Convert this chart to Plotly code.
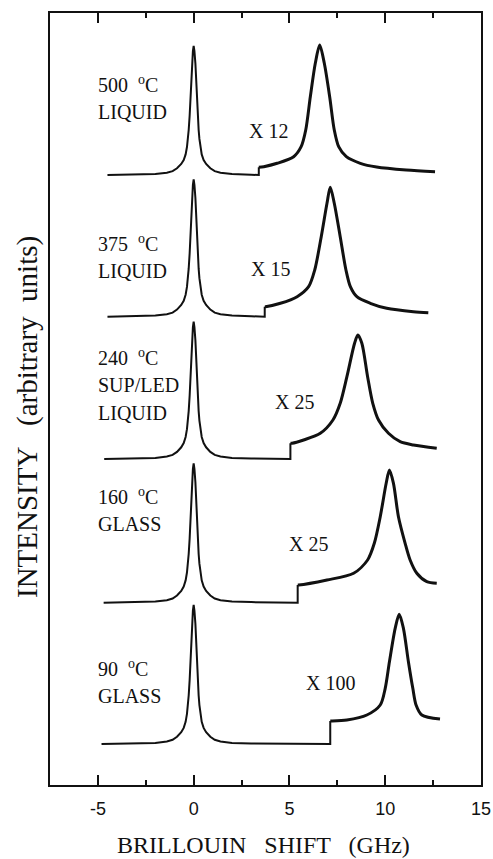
import plotly.graph_objects as go

# Brillouin spectra of the melt at five temperatures, stacked vertically.
# Each spectrum: Rayleigh line (around 0 GHz) and Brillouin peak (magnified).

# Vertical offsets (baselines) of the stacked spectra, arbitrary units
offsets = [610.0, 468.3, 326.0, 182.3, 41.0]

# Rayleigh segments: shift (GHz) and intensity above baseline.
# Each segment ends with the vertical step up to the magnified part.
ray_shift_1 = [-4.5, -3.0, -2.0, -1.4, -1.1, -0.87, -0.65, -0.52, -0.42, -0.35, -0.30,
               -0.26, -0.21, -0.17, -0.13, -0.09, -0.04, 0.0, 0.04, 0.09, 0.13, 0.17,
               0.21, 0.26, 0.30, 0.35, 0.42, 0.52, 0.65, 0.87, 1.1, 1.4, 2.0, 3.0, 3.4, 3.4]
ray_int_1 = [0, 0.4, 1.0, 2.3, 3.9, 6.7, 11.0, 15.0, 20.6, 28.0, 36.1,
             45.0, 59.3, 78.0, 92.9, 111.7, 123.8, 129.0, 123.8, 111.7, 92.9, 78.0,
             59.3, 45.0, 36.1, 28.0, 20.6, 15.0, 11.0, 6.7, 3.9, 2.3, 1.0, 0.3, 0, 7.7]

ray_shift_2 = [-4.5, -3.0, -2.0, -1.4, -1.1, -0.87, -0.65, -0.52, -0.42, -0.35, -0.30,
               -0.26, -0.21, -0.17, -0.13, -0.09, -0.04, 0.0, 0.04, 0.09, 0.13, 0.17,
               0.21, 0.26, 0.30, 0.35, 0.42, 0.52, 0.65, 0.87, 1.1, 1.4, 2.0, 3.0, 3.71, 3.71]
ray_int_2 = [0, 0.5, 1.1, 2.5, 4.1, 7.1, 11.7, 15.9, 22.0, 29.8, 38.5,
             48.0, 63.2, 83.1, 98.9, 119.0, 131.9, 137.4, 131.9, 119.0, 98.9, 83.1,
             63.2, 48.0, 38.5, 29.8, 22.0, 15.9, 11.7, 7.1, 4.1, 2.5, 1.1, 0.5, 0, 10.0]

ray_shift_3 = [-4.67, -3.0, -2.0, -1.4, -1.1, -0.87, -0.65, -0.52, -0.42, -0.35, -0.30,
               -0.26, -0.21, -0.17, -0.13, -0.09, -0.04, 0.0, 0.04, 0.09, 0.13, 0.17,
               0.21, 0.26, 0.30, 0.35, 0.42, 0.52, 0.65, 0.87, 1.1, 1.4, 2.0, 3.0, 4.0,
               5.05, 5.05]
ray_int_3 = [0, 0.5, 1.1, 2.5, 4.1, 7.1, 11.7, 15.9, 22.0, 29.8, 38.4,
             47.9, 63.2, 83.1, 98.9, 118.9, 131.8, 137.3, 131.8, 118.9, 98.9, 83.1,
             63.2, 47.9, 38.4, 29.8, 22.0, 15.9, 11.7, 7.1, 4.1, 2.5, 1.1, 0.5, 0.2,
             0, 15.7]

ray_shift_4 = [-4.7, -3.0, -2.0, -1.4, -1.1, -0.87, -0.65, -0.52, -0.42, -0.35, -0.30,
               -0.26, -0.21, -0.17, -0.13, -0.09, -0.04, 0.0, 0.04, 0.09, 0.13, 0.17,
               0.21, 0.26, 0.30, 0.35, 0.42, 0.52, 0.65, 0.87, 1.1, 1.4, 2.0, 3.0, 4.0,
               5.43, 5.43]
ray_int_4 = [0, 0.6, 1.1, 2.5, 4.2, 7.2, 11.8, 16.2, 22.3, 30.2, 39.0,
             48.7, 64.1, 84.3, 100.4, 120.7, 133.8, 139.4, 133.8, 120.7, 100.4, 84.3,
             64.1, 48.7, 39.0, 30.2, 22.3, 16.2, 11.8, 7.2, 4.2, 2.5, 1.1, 0.6, 0.2,
             0, 17.7]

ray_shift_5 = [-4.81, -3.0, -2.0, -1.4, -1.1, -0.87, -0.65, -0.52, -0.42, -0.35, -0.30,
               -0.26, -0.21, -0.17, -0.13, -0.09, -0.04, 0.0, 0.04, 0.09, 0.13, 0.17,
               0.21, 0.26, 0.30, 0.35, 0.42, 0.52, 0.65, 0.87, 1.1, 1.4, 2.0, 3.0, 5.0,
               7.13, 7.13]
ray_int_5 = [0, 0.6, 1.1, 2.5, 4.2, 7.2, 11.8, 16.1, 22.2, 30.2, 38.9,
             48.5, 63.9, 84.1, 100.1, 120.4, 133.4, 139.0, 133.4, 120.4, 100.1, 84.1,
             63.9, 48.5, 38.9, 30.2, 22.2, 16.1, 11.8, 7.2, 4.2, 2.5, 1.1, 0.6, 0.2,
             0, 23.0]

# Brillouin segments (magnified): shift (GHz) and intensity above baseline
bri_shift_1 = [3.4, 3.66, 4.36, 5.22, 5.61, 5.85, 6.09, 6.35, 6.58,
               6.82, 7.1, 7.34, 7.57, 7.97, 8.7, 9.55, 11.1, 12.6]
bri_int_1 = [7.7, 8.3, 11.7, 18.3, 28.3, 45, 78.3, 111.7, 130,
             111.7, 78.3, 45, 28.3, 18.3, 11.7, 8, 5, 3.3]

bri_shift_2 = [3.71, 3.75, 4.53, 5.4, 6.0, 6.32, 6.66, 6.96, 7.13,
               7.34, 7.65, 7.95, 8.18, 8.52, 9.22, 10.08, 11.47, 12.25]
bri_int_2 = [10, 10, 13.4, 20, 30, 46.7, 80, 113.4, 129.4,
             113.4, 80, 46.7, 30, 20, 13.4, 8.4, 5, 4]

bri_shift_3 = [5.05, 5.14, 5.74, 6.61, 7.27, 7.65, 8.0, 8.4, 8.57,
               8.78, 9.08, 9.35, 9.65, 10.17, 10.78, 11.47, 12.69]
bri_int_3 = [15.7, 15.7, 19, 25.7, 39, 55.7, 82.3, 115.7, 124,
             115.7, 82.3, 55.7, 39, 25.7, 17.3, 14, 10.7]

bri_shift_4 = [5.43, 5.48, 6.96, 8.35, 9.08, 9.43, 9.74, 10.05, 10.22,
               10.43, 10.69, 11.04, 11.3, 11.65, 12.17, 12.69]
bri_int_4 = [17.7, 17.7, 22.7, 29.4, 42.7, 59.4, 86, 119.4, 132.7,
             119.4, 86, 59.4, 42.7, 29.4, 21, 19.4]

bri_shift_5 = [7.13, 7.22, 8.0, 9.04, 9.74, 10.0, 10.22, 10.52, 10.73,
               10.95, 11.21, 11.44, 11.61, 11.91, 12.86]
bri_int_5 = [23, 23, 24, 29, 39, 55.7, 82.3, 115.7, 129.7,
             115.7, 82.3, 55.7, 39, 29, 25]

rayleigh = [(ray_shift_1, ray_int_1), (ray_shift_2, ray_int_2), (ray_shift_3, ray_int_3),
            (ray_shift_4, ray_int_4), (ray_shift_5, ray_int_5)]
brillouin = [(bri_shift_1, bri_int_1), (bri_shift_2, bri_int_2), (bri_shift_3, bri_int_3),
             (bri_shift_4, bri_int_4), (bri_shift_5, bri_int_5)]

# Sample labels: temperature, phase lines, and label anchor heights
temps = ["500", "375", "240", "160", "90"]
phases = [["LIQUID"], ["LIQUID"], ["SUP/LED", "LIQUID"], ["GLASS"], ["GLASS"]]
label_y = [701, 542, 428, 289, 117]
line_step = 28

# Magnification factors of the Brillouin parts, with label positions
factors = ["X 12", "X 15", "X 25", "X 25", "X 100"]
factor_x = [3.9, 4.0, 5.25, 6.0, 7.15]
factor_y = [654, 516, 383, 241, 102]

x_ticks = [-5, 0, 5, 10, 15]
x_minor = [-2.5, 2.5, 7.5, 12.5]

SERIF = "Liberation Serif, Times New Roman, serif"
SANS = "Liberation Sans, Arial, sans-serif"
INK = "#111111"

fig = go.Figure()
for off, (rs, ri), (bs, bi) in zip(offsets, rayleigh, brillouin):
    fig.add_trace(go.Scatter(x=rs, y=[off + v for v in ri], mode="lines",
                             line=dict(color=INK, width=2), showlegend=False,
                             hoverinfo="skip"))
    fig.add_trace(go.Scatter(x=bs, y=[off + v for v in bi], mode="lines",
                             line=dict(color=INK, width=3, shape="spline",
                                       smoothing=0.8),
                             showlegend=False, hoverinfo="skip"))

annotations = []
for t, ph, y0 in zip(temps, phases, label_y):
    annotations.append(dict(x=-5.1, y=y0, xref="x", yref="y", xanchor="left",
                            yanchor="middle", showarrow=False,
                            text=t + "  <sup>o</sup>C",
                            font=dict(family=SERIF, size=20, color=INK)))
    for k, line in enumerate(ph):
        annotations.append(dict(x=-5.1, y=y0 - line_step * (k + 1), xref="x", yref="y",
                                xanchor="left", yanchor="middle", showarrow=False,
                                text=line, font=dict(family=SERIF, size=20, color=INK)))
for f, fx, fy in zip(factors, factor_x, factor_y):
    annotations.append(dict(x=fx, y=fy, xref="x", yref="y", xanchor="center",
                            yanchor="middle", showarrow=False, text=f,
                            font=dict(family=SERIF, size=20, color=INK)))

# Axis titles
annotations.append(dict(x=3.66, y=0, xref="x", yref="paper", yshift=-60,
                        xanchor="center", yanchor="middle", showarrow=False,
                        text="BRILLOUIN   SHIFT   (GHz)",
                        font=dict(family=SERIF, size=24, color=INK)))
annotations.append(dict(x=0, y=368, xref="paper", yref="y", xshift=-23,
                        xanchor="center", yanchor="middle", showarrow=False,
                        textangle=-90, text="INTENSITY   (arbitrary  units)",
                        font=dict(family=SERIF, size=29, color=INK)))

fig.update_layout(
    width=493, height=859,
    margin=dict(l=50, r=12, t=13, b=74),
    paper_bgcolor="white", plot_bgcolor="white",
    annotations=annotations,
    xaxis=dict(range=[-7.5, 15], tickmode="array", tickvals=x_ticks,
               ticktext=[str(v) for v in x_ticks],
               ticks="inside", ticklen=10, tickwidth=2, tickcolor=INK,
               ticklabelstandoff=6,
               showline=True, linewidth=2, linecolor=INK, mirror="ticks",
               showgrid=False, zeroline=False, automargin=False,
               tickfont=dict(family=SANS, size=18, color=INK),
               minor=dict(tickmode="array", tickvals=x_minor, ticks="inside",
                          ticklen=5, tickwidth=2, tickcolor=INK, showgrid=False)),
    yaxis=dict(range=[0, 772], showticklabels=False, ticks="",
               showline=True, linewidth=2, linecolor=INK, mirror=True,
               showgrid=False, zeroline=False, automargin=False),
)

fig.write_html("out.html")
